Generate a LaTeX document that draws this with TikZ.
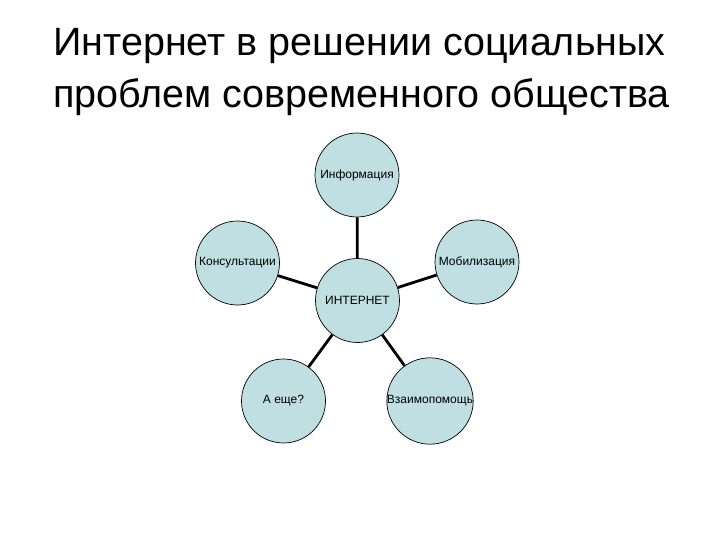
\documentclass[tikz,border=0pt]{standalone}
\usepackage{fontspec}
\setmainfont{Liberation Sans}
\definecolor{circfill}{RGB}{191,223,226}
\tikzset{
  bubble/.style={circle, draw=black, line width=0.7pt, fill=circfill, minimum size=84pt, inner sep=0pt, font=\fontsize{12}{14}\selectfont},
  link/.style={line width=2.8pt, draw=black},
  title/.style={anchor=base, font=\fontsize{39.5}{46}\selectfont, inner sep=0pt}
}
\begin{document}
\begin{tikzpicture}[x=1pt,y=-1pt]
\useasboundingbox (0,0) rectangle (720,540);
\node[title] (t1) at (359.5,56) {Интернет в решении социальных};
\node[title] (t2) at (361.5,108) {проблем современного общества};
\node[bubble] (inf) at (357,175) {Информация};
\node[bubble] (kons) at (237.5,263) {Консультации};
\node[bubble] (mob) at (477,262) {Мобилизация};
\node[bubble] (net) at (357.5,300.5) {ИНТЕРНЕТ};
\node[bubble] (esche) at (283.5,401) {А еще?};
\node[bubble] (vz) at (430,401) {Взаимопомощь};
\draw[link] (inf) -- (net);
\draw[link] (kons) -- (net);
\draw[link] (mob) -- (net);
\draw[link] (esche) -- (net);
\draw[link] (vz) -- (net);
\end{tikzpicture}
\end{document}
